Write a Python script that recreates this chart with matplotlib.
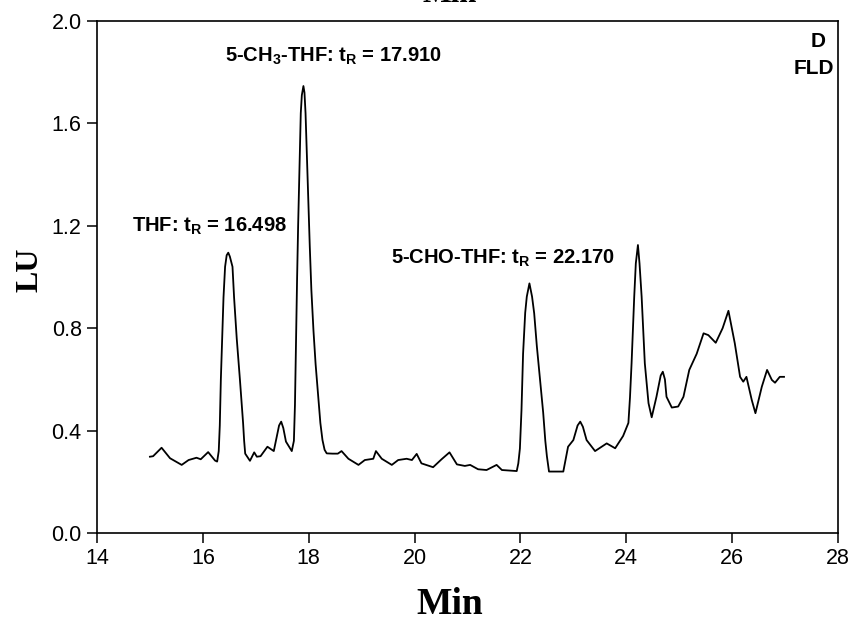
import numpy as np
import matplotlib
matplotlib.use("Agg")
import matplotlib.pyplot as plt

plt.rcParams["font.family"] = "Liberation Sans"
plt.rcParams["mathtext.fontset"] = "custom"
plt.rcParams["mathtext.bf"] = "Liberation Sans:bold"
plt.rcParams["mathtext.rm"] = "Liberation Sans:bold"
plt.rcParams["mathtext.it"] = "Liberation Sans:bold"
plt.rcParams["mathtext.default"] = "bf"

# chromatogram trace (min, LU)
time = [15.00, 15.06, 15.22, 15.38, 15.60, 15.73, 15.88, 15.96, 16.10, 16.23,
        16.27, 16.30, 16.32, 16.34, 16.36, 16.39, 16.42, 16.45, 16.48, 16.51,
        16.56, 16.59, 16.64, 16.70, 16.76, 16.78, 16.80, 16.89, 16.97, 17.02,
        17.09, 17.22, 17.34, 17.44, 17.48, 17.52, 17.57, 17.68, 17.72, 17.74,
        17.76, 17.78, 17.80, 17.82, 17.85, 17.87, 17.90, 17.92, 17.94, 17.96,
        17.99, 18.02, 18.05, 18.09, 18.13, 18.18, 18.22, 18.26, 18.30, 18.34,
        18.45, 18.55, 18.62, 18.75, 18.94, 19.06, 19.22, 19.27, 19.38, 19.57,
        19.69, 19.85, 19.95, 20.04, 20.13, 20.35, 20.51, 20.66, 20.80, 20.95,
        21.05, 21.20, 21.36, 21.55, 21.65, 21.93, 21.96, 21.99, 22.02, 22.05,
        22.09, 22.12, 22.17, 22.22, 22.26, 22.31, 22.37, 22.43, 22.47, 22.50,
        22.54, 22.81, 22.90, 23.00, 23.08, 23.13, 23.18, 23.25, 23.41, 23.63,
        23.79, 23.94, 24.04, 24.07, 24.10, 24.15, 24.18, 24.22, 24.25, 24.29,
        24.35, 24.42, 24.48, 24.57, 24.65, 24.69, 24.73, 24.76, 24.86, 24.98,
        25.08, 25.19, 25.33, 25.46, 25.55, 25.69, 25.82, 25.93, 26.05, 26.15,
        26.21, 26.27, 26.37, 26.44, 26.56, 26.66, 26.75, 26.81, 26.90, 26.98]
signal = [0.298, 0.300, 0.333, 0.292, 0.266, 0.285, 0.294, 0.288, 0.316, 0.283,
          0.279, 0.320, 0.420, 0.600, 0.730, 0.920, 1.040, 1.085, 1.095, 1.080,
          1.040, 0.920, 0.760, 0.600, 0.430, 0.360, 0.310, 0.282, 0.315, 0.298,
          0.300, 0.337, 0.320, 0.420, 0.435, 0.410, 0.357, 0.320, 0.360, 0.500,
          0.750, 0.990, 1.200, 1.380, 1.640, 1.710, 1.746, 1.720, 1.640, 1.510,
          1.320, 1.120, 0.950, 0.790, 0.660, 0.530, 0.430, 0.363, 0.325, 0.311,
          0.310, 0.310, 0.320, 0.290, 0.266, 0.285, 0.290, 0.320, 0.290, 0.266,
          0.285, 0.290, 0.285, 0.309, 0.272, 0.257, 0.288, 0.315, 0.268, 0.262,
          0.266, 0.249, 0.246, 0.266, 0.246, 0.242, 0.272, 0.330, 0.480, 0.700,
          0.860, 0.923, 0.975, 0.923, 0.858, 0.730, 0.600, 0.470, 0.360, 0.300,
          0.240, 0.240, 0.337, 0.363, 0.420, 0.435, 0.415, 0.363, 0.320, 0.350,
          0.331, 0.379, 0.430, 0.530, 0.663, 0.923, 1.053, 1.125, 1.053, 0.923,
          0.663, 0.507, 0.452, 0.532, 0.615, 0.630, 0.600, 0.532, 0.490, 0.494,
          0.532, 0.637, 0.700, 0.780, 0.773, 0.743, 0.800, 0.868, 0.741, 0.610,
          0.591, 0.610, 0.520, 0.468, 0.571, 0.637, 0.598, 0.587, 0.610, 0.610]

peak_labels = [r"THF: $t_R$ = 16.498",
               r"5-CH$_3$-THF: $t_R$ = 17.910",
               r"5-CHO-THF: $t_R$ = 22.170"]
label_pos = [(14.66, 1.177), (16.42, 1.841), (19.55, 1.053)]

fig = plt.figure(figsize=(8.54, 6.38), dpi=100)
ax = fig.add_axes([97 / 854, 1 - 533 / 638, 741 / 854, 512 / 638])

ax.plot(time, signal, color="black", linewidth=1.3, solid_joinstyle="round")

ax.set_xlim(14, 28)
ax.set_ylim(0, 2.0)
ax.set_xticks(np.arange(14, 29, 2))
ax.set_yticks(np.arange(0, 2.01, 0.4))
ax.set_yticklabels(["%.1f" % v for v in np.arange(0, 2.01, 0.4)])
ax.tick_params(direction="out", length=7, width=1.1, labelsize=15.5, pad=4)
for s in ax.spines.values():
    s.set_linewidth(1.2)

for txt, (x, y) in zip(peak_labels, label_pos):
    ax.text(x, y, txt, ha="left", va="baseline", fontsize=14.5, fontweight="bold")

ax.text((818 - 97) / 741, 0.959, "D", transform=ax.transAxes,
        ha="center", va="center", fontsize=15, fontweight="bold")
ax.text((813.5 - 97) / 741, 0.908, "FLD", transform=ax.transAxes,
        ha="center", va="center", fontsize=15, fontweight="bold")

fig.text(30 / 854, 1 - 270 / 638, "LU", rotation=90, ha="center", va="center",
         fontsize=23, fontweight="bold", family="Liberation Serif")
fig.text(450 / 854, 1 - 605 / 638, "Min", ha="center", va="center",
         fontsize=27, fontweight="bold", family="Liberation Serif")
fig.text(450 / 854, 1 - 9 / 638, "Min", ha="center", va="bottom",
         fontsize=22, fontweight="bold", family="Liberation Serif")

fig.savefig("out.png", dpi=100)
